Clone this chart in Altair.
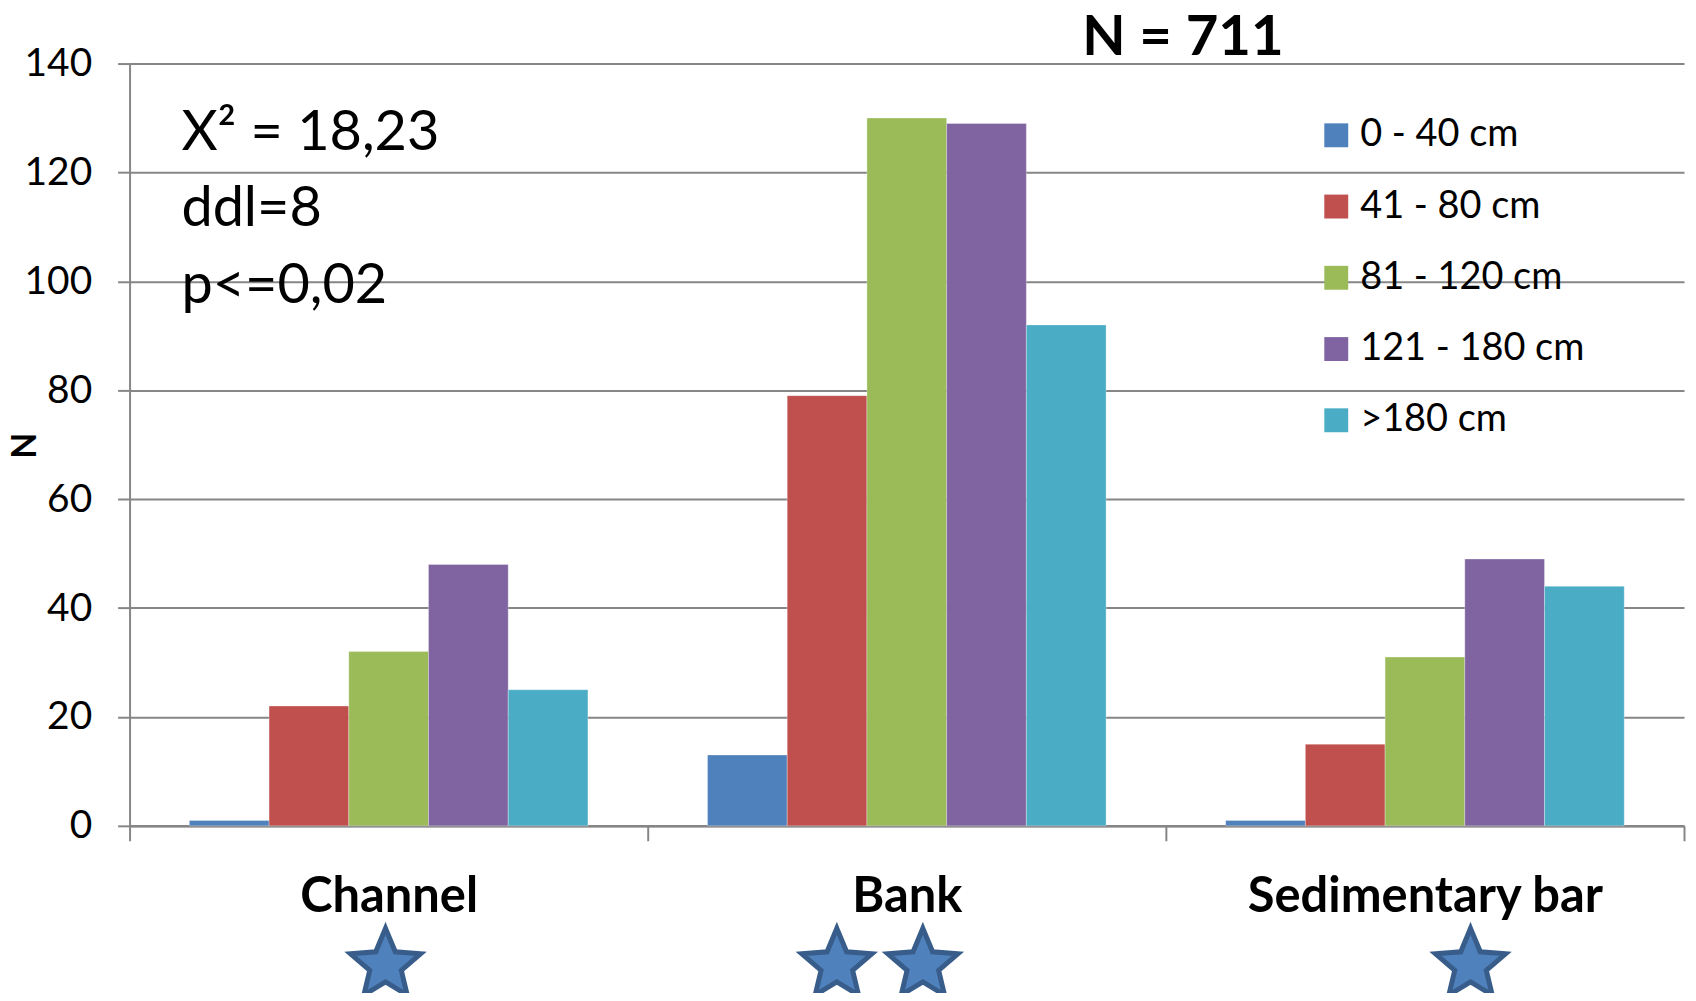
import altair as alt
import pandas as pd

# ---- data ----
categories = ["Channel", "Bank", "Sedimentary bar"]
classes = ["0 - 40 cm", "41 - 80 cm", "81 - 120 cm", "121 - 180 cm", ">180 cm"]
channel = [1, 22, 32, 48, 25]
bank = [13, 79, 130, 129, 92]
sedimentary = [1, 15, 31, 49, 44]
colors = ["#4F81BD", "#C0504D", "#9BBB59", "#8064A2", "#4BACC6"]
y_ticks = [0, 20, 40, 60, 80, 100, 120, 140]

stats_lines = ["X\u00b2 = 18,23", "ddl=8", "p<=0,02"]
stats_y = [124.2, 110.2, 96.1]
stats_pos = [0.1, 0.1, 0.1]
title_text = ["N = 711"]
title_pos = [2.033]
title_y = [141.6]
star_pos = [0.494, 1.365, 1.531, 2.588]
star_y = [-25.6, -25.6, -25.6, -25.6]

rows = []
for cat, vals in zip(categories, [channel, bank, sedimentary]):
    for cls, v in zip(classes, vals):
        rows.append({"site": cat, "cls": cls, "n": v})
df = pd.DataFrame(rows)

df_stats = pd.DataFrame({"pos": stats_pos, "y": stats_y, "text": stats_lines})
df_title = pd.DataFrame({"pos": title_pos, "y": title_y, "text": title_text})
df_stars = pd.DataFrame({"pos": star_pos, "y": star_y})

FONT = "Lato"
GRAY = "#868686"
yscale = alt.Scale(domain=[0, 140], nice=False, zero=True)
xq = alt.Scale(domain=[0, 3], nice=False, zero=False)

bars = alt.Chart(df).mark_bar(stroke="white", strokeWidth=0.6, strokeOpacity=0.5).encode(
    x=alt.X("site:N", sort=categories,
            scale=alt.Scale(paddingInner=0, paddingOuter=0),
            axis=alt.Axis(title=None, labelFont=FONT, labelFontWeight="bold", labelFontSize=49,
                          labelColor="black", labelAngle=0, tickBand="extent", tickSize=15,
                          tickColor=GRAY, tickWidth=2, domainColor=GRAY, domainWidth=2.5,
                          labelPadding=71, labelBaseline="alphabetic", labelLimit=700, grid=False)),
    xOffset=alt.XOffset("cls:N", sort=classes, scale=alt.Scale(paddingInner=0, paddingOuter=0.75)),
    y=alt.Y("n:Q", scale=yscale,
            axis=alt.Axis(values=y_ticks, title="N", labelFont=FONT, labelFontSize=39,
                          labelColor="black", tickSize=12, tickColor=GRAY, tickWidth=2,
                          domainColor=GRAY, domainWidth=2, gridColor=GRAY, gridWidth=2,
                          labelPadding=26, titleFont=FONT, titleFontWeight="bold",
                          titleFontSize=34, titleColor="black", titleAngle=-90,
                          titleX=-104, titleY=383, titleAlign="center", titleBaseline="middle")),
    color=alt.Color("cls:N", sort=classes, scale=alt.Scale(domain=classes, range=colors),
                    legend=alt.Legend(title=None, orient="none", legendX=1192, legendY=53,
                                      symbolType="square", symbolSize=576, symbolStrokeWidth=0,
                                      symbolOpacity=1, labelFont=FONT, labelFontSize=38,
                                      labelColor="black", labelOffset=5, rowPadding=33.5,
                                      padding=0, labelLimit=400)),
)

stats = alt.Chart(df_stats).mark_text(align="left", baseline="alphabetic", font=FONT,
                                      fontSize=56, color="black").encode(
    x=alt.X("pos:Q", scale=xq, axis=None),
    y=alt.Y("y:Q", scale=yscale, axis=None),
    text="text:N",
)

title = alt.Chart(df_title).mark_text(align="center", baseline="alphabetic", font=FONT,
                                      fontSize=56.5, fontWeight="bold", color="black").encode(
    x=alt.X("pos:Q", scale=xq, axis=None),
    y=alt.Y("y:Q", scale=yscale, axis=None),
    text="text:N",
)

star_path = ("M0,-1L0.2645,-0.364L0.951,-0.309L0.428,0.139L0.588,0.809L0,0.45L-0.588,0.809"
             "L-0.428,0.139L-0.951,-0.309L-0.2645,-0.364Z")
stars = alt.Chart(df_stars).mark_point(shape=star_path, size=5476, filled=True, fill="#4F81BD",
                                       fillOpacity=1, stroke="#385D8A", strokeWidth=5,
                                       strokeJoin="miter", opacity=1).encode(
    x=alt.X("pos:Q", scale=xq, axis=None),
    y=alt.Y("y:Q", scale=yscale, axis=None),
)

chart = alt.layer(bars, stats, title, stars).resolve_scale(x="independent").resolve_axis(
    y="independent").properties(
    width=1560, height=765,
    autosize=alt.AutoSizeParams(type="none"),
    padding={"left": 122, "top": 54, "right": 4, "bottom": 166},
    background="white",
).configure_view(stroke=None)

chart.save("out.html", embed_options={"renderer": "svg", "actions": False})
